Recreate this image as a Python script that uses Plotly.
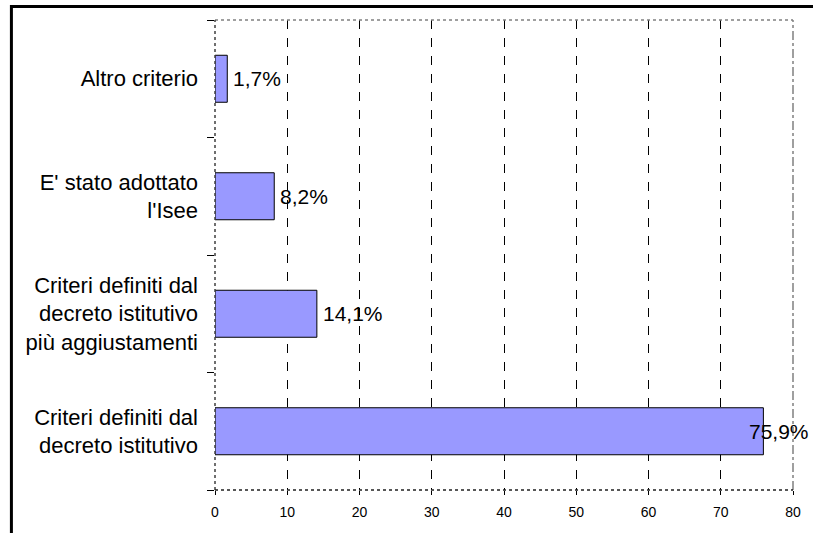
import plotly.graph_objects as go

categories = [
    "Criteri definiti dal<br>decreto istitutivo",
    "Criteri definiti dal<br>decreto istitutivo<br>più aggiustamenti",
    "E' stato adottato<br>l'Isee",
    "Altro criterio",
]
values = [75.9, 14.1, 8.2, 1.7]
labels = ["75,9%", "14,1%", "8,2%", "1,7%"]
x_ticks = [0, 10, 20, 30, 40, 50, 60, 70, 80]

FONT = "Liberation Sans, Arial, Helvetica, sans-serif"
X_MAX = 80

fig = go.Figure()
fig.add_trace(go.Bar(
    y=categories, x=values, orientation="h",
    marker=dict(color="#9999FF", line=dict(color="#000000", width=1)),
    hoverinfo="skip",
))

for cat, v, lab in zip(categories, values, labels):
    overflow = v > X_MAX - 8
    fig.add_annotation(
        x=v, y=cat, xref="x", yref="y", text=lab, showarrow=False,
        xanchor="left", yanchor="middle", xshift=(-16 if overflow else 4),
        font=dict(family=FONT, size=21, color="#000000"),
    )

# plot-area borders
fig.add_shape(type="line", xref="x domain", yref="y domain", x0=0, x1=1, y0=1, y1=1,
              line=dict(color="#808080", width=1.5, dash="dot"))
fig.add_shape(type="line", xref="x domain", yref="y domain", x0=1, x1=1, y0=0, y1=1,
              line=dict(color="#808080", width=1.5, dash="dashdot"))
fig.add_shape(type="line", xref="x domain", yref="y domain", x0=0, x1=0, y0=0, y1=1,
              line=dict(color="#404040", width=1.5, dash="dot"))
fig.add_shape(type="line", xref="x domain", yref="y domain", x0=0, x1=1, y0=0, y1=0,
              line=dict(color="#202020", width=1.5, dash="dot"))
# outer frame
fig.add_shape(type="rect", xref="paper", yref="paper", x0=-0.3, x1=1.1, y0=-0.2, y1=1.0,
              line=dict(color="#000000", width=3), layer="above")

fig.update_layout(
    width=813, height=533,
    margin=dict(l=215, r=16, t=20, b=43),
    paper_bgcolor="#FFFFFF", plot_bgcolor="#FFFFFF",
    bargap=0.6, showlegend=False,
    font=dict(family=FONT, color="#000000"),
)
fig.update_xaxes(
    range=[0, X_MAX], tickvals=x_ticks, ticktext=[str(t) for t in x_ticks],
    showgrid=True, gridcolor="#000000", gridwidth=1, griddash="dash",
    zeroline=False, showline=False,
    ticks="outside", ticklen=4, tickcolor="#000000", tickwidth=1,
    ticklabelstandoff=5,
    tickfont=dict(family=FONT, size=14, color="#000000"),
    fixedrange=True,
)
fig.update_yaxes(
    categoryorder="array", categoryarray=categories,
    tickson="boundaries", ticks="outside", ticklen=7, tickcolor="#000000", tickwidth=1,
    showgrid=False, zeroline=False, showline=False,
    ticklabelstandoff=16,
    tickfont=dict(family=FONT, size=22, color="#000000"),
    fixedrange=True,
)

# outer frame in pixel positions of reference
# paper x: 0 at 215px, 1 at 797px ; paper y: 0 at 490px, 1 at 20px
pw, ph = 813 - 215 - 16, 533 - 20 - 43
fig.layout.shapes[-1].update(x0=(10 - 215) / pw, x1=(830 - 215) / pw,
                             y0=(490 - 545) / ph, y1=(490 - 6.5) / ph)

fig.write_html("out.html", config={"displayModeBar": False},
               post_script="document.body.style.margin='0';")
